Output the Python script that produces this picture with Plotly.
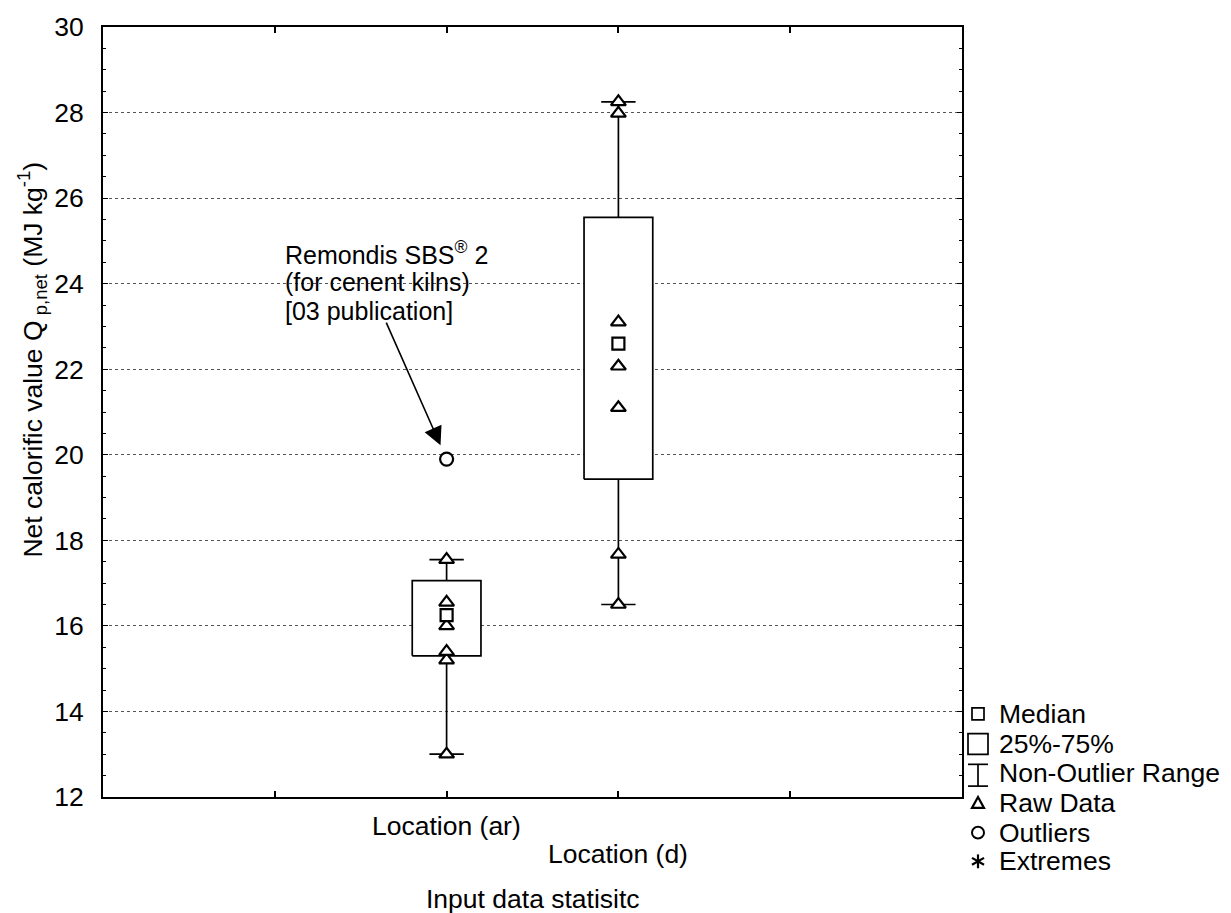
import plotly.graph_objects as go

# ---- data -----------------------------------------------------------------
categories = ["Location (ar)", "Location (d)"]
positions = [2, 3]
box_q1 = [15.30, 19.43]
box_median = [16.25, 22.60]
box_q3 = [17.06, 25.55]
whisker_low = [13.00, 16.50]
whisker_high = [17.55, 28.25]
raw_ar = [13.00, 15.20, 15.40, 16.00, 16.55, 17.55]
raw_d = [16.50, 17.67, 21.10, 22.07, 23.10, 27.98, 28.25]
outlier_ar = [19.90]

y_ticks = [12, 14, 16, 18, 20, 22, 24, 26, 28, 30]
legend_labels = ["Median", "25%-75%", "Non-Outlier Range", "Raw Data", "Outliers", "Extremes"]

# ---- figure geometry (pixels) ---------------------------------------------
W, H = 1231, 913
ML, MR, MT, MB = 103, 269, 19, 116
PW, PH = W - ML - MR, H - MT - MB
FONT = "Liberation Sans, Arial, sans-serif"
FS = 26.5
FS_NOTE = 25
BOX_HALF = 0.2
CAP_HALF = 0.1


def px_x(px):
    return (px - ML) / PW


def px_y(py):
    return (H - MB - py) / PH


fig = go.Figure()

# boxes, whiskers, caps
for i, p in enumerate(positions):
    fig.add_trace(go.Scatter(
        x=[p - BOX_HALF, p + BOX_HALF, p + BOX_HALF, p - BOX_HALF, p - BOX_HALF],
        y=[box_q1[i], box_q1[i], box_q3[i], box_q3[i], box_q1[i]],
        mode="lines", fill="toself", fillcolor="white",
        line=dict(color="black", width=1.7), showlegend=False, hoverinfo="skip"))
    fig.add_trace(go.Scatter(
        x=[p, p, None, p, p, None,
           p - CAP_HALF, p + CAP_HALF, None, p - CAP_HALF, p + CAP_HALF],
        y=[box_q3[i], whisker_high[i], None, box_q1[i], whisker_low[i], None,
           whisker_high[i], whisker_high[i], None, whisker_low[i], whisker_low[i]],
        mode="lines", line=dict(color="black", width=1.7),
        showlegend=False, hoverinfo="skip"))

# raw data points
for p, vals in zip(positions, [raw_ar, raw_d]):
    fig.add_trace(go.Scatter(
        x=[p] * len(vals), y=vals, mode="markers",
        marker=dict(symbol="triangle-up", size=13, color="white",
                    line=dict(color="black", width=2.2)),
        showlegend=False, cliponaxis=False))

# medians
fig.add_trace(go.Scatter(
    x=positions, y=box_median, mode="markers",
    marker=dict(symbol="square", size=12, color="white",
                line=dict(color="black", width=2.2)),
    showlegend=False))

# outliers
fig.add_trace(go.Scatter(
    x=[positions[0]] * len(outlier_ar), y=outlier_ar, mode="markers",
    marker=dict(symbol="circle", size=13, color="white",
                line=dict(color="black", width=2.2)),
    showlegend=False))

annotations = []

# callout to the outlier
annotations.append(dict(
    x=positions[0], y=outlier_ar[0], xref="x", yref="y",
    ax=-61, ay=-138, showarrow=True, arrowhead=2, arrowsize=2.3,
    arrowwidth=1.6, arrowcolor="black", standoff=15, text=""))
callout_lines = ["Remondis SBS<sup>®</sup> 2", "(for cenent kilns)", "[03 publication]"]
for line, py in zip(callout_lines, [247, 277, 306]):
    annotations.append(dict(
        x=px_x(283), y=px_y(py), xref="paper", yref="paper",
        xanchor="left", yanchor="middle", showarrow=False, text=line,
        font=dict(family=FONT, size=FS_NOTE, color="black")))

# staggered category labels
for cat, p, py in zip(categories, positions, [826, 855]):
    annotations.append(dict(
        x=p, y=px_y(py), xref="x", yref="paper", xanchor="center",
        yanchor="middle", showarrow=False, text=cat,
        font=dict(family=FONT, size=FS, color="black")))

# axis titles
annotations.append(dict(
    x=0.5, y=px_y(900), xref="paper", yref="paper", xanchor="center",
    yanchor="middle", showarrow=False, text="Input data statisitc",
    font=dict(family=FONT, size=FS, color="black")))
annotations.append(dict(
    x=px_x(32), y=px_y(355), xref="paper", yref="paper", xanchor="center",
    yanchor="middle", showarrow=False, textangle=-90,
    text="Net calorific value Q<sub> p,net</sub> (MJ kg<sup>-1</sup>)",
    font=dict(family=FONT, size=FS, color="black")))

# legend block
legend_y = [713, 743, 773, 803, 833, 862]
for lab, py in zip(legend_labels, legend_y):
    annotations.append(dict(
        x=px_x(997), y=px_y(py), xref="paper", yref="paper",
        xanchor="left", yanchor="middle", showarrow=False, text=lab,
        font=dict(family=FONT, size=FS, color="black")))

shapes = []
gx = 978
ln = dict(color="black", width=1.7)


def rect(x0, y0, x1, y1):
    return dict(type="rect", xref="paper", yref="paper",
                x0=px_x(x0), x1=px_x(x1), y0=px_y(y1), y1=px_y(y0),
                line=ln, fillcolor="white")


def seg(x0, y0, x1, y1, width=1.7):
    return dict(type="line", xref="paper", yref="paper",
                x0=px_x(x0), x1=px_x(x1), y0=px_y(y0), y1=px_y(y1),
                line=dict(color="black", width=width))


shapes.append(rect(972, 707, 984, 719))
shapes.append(rect(968, 733, 988, 754))
shapes.append(seg(968, 764, 988, 764))
shapes.append(seg(968, 786, 988, 786))
shapes.append(seg(gx, 764, gx, 786))
shapes.append(dict(type="path", xref="paper", yref="paper", line=dict(color="black", width=2.2),
                   path="M {0},{1} L {2},{3} L {4},{5} Z".format(
                       px_x(972), px_y(808), px_x(984), px_y(808), px_x(978), px_y(797))))
shapes.append(dict(type="circle", xref="paper", yref="paper", line=dict(color="black", width=2),
                   x0=px_x(972), x1=px_x(984), y0=px_y(839), y1=px_y(827)))
shapes.append(seg(gx, 855, gx, 869, 2.2))
shapes.append(seg(972, 858.5, 984, 865.5, 2.2))
shapes.append(seg(972, 865.5, 984, 858.5, 2.2))

fig.update_layout(
    width=W, height=H,
    margin=dict(l=ML, r=MR, t=MT, b=MB, pad=0),
    paper_bgcolor="white", plot_bgcolor="white",
    font=dict(family=FONT, size=FS, color="black"),
    showlegend=False,
    annotations=annotations, shapes=shapes,
    xaxis=dict(
        range=[0, 5], tickvals=[1, 2, 3, 4], showticklabels=False,
        ticks="inside", ticklen=6, tickwidth=1.5, tickcolor="black",
        showline=True, linecolor="black", linewidth=1.8, mirror="ticks",
        showgrid=False, zeroline=False, fixedrange=True),
    yaxis=dict(
        range=[12, 30], tickvals=y_ticks,
        ticks="inside", ticklen=5, tickwidth=1.2, tickcolor="black",
        ticklabelstandoff=12,
        tickfont=dict(family=FONT, size=FS, color="black"),
        showline=True, linecolor="black", linewidth=1.8, mirror="ticks",
        showgrid=True, gridcolor="#555555", gridwidth=1, griddash="dot",
        zeroline=False,
        minor=dict(dtick=0.5, ticks="inside", ticklen=3, tickcolor="black",
                   showgrid=False),
        fixedrange=True),
)

fig.write_html("out.html")
